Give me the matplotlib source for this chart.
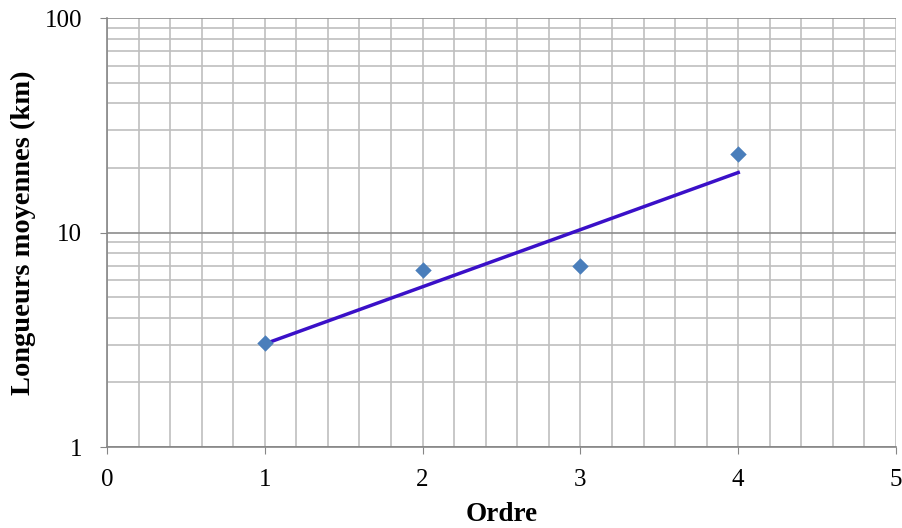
import numpy as np
import matplotlib
matplotlib.use("Agg")
import matplotlib.pyplot as plt
from matplotlib.ticker import MultipleLocator, LogLocator, NullFormatter, FixedLocator

plt.rcParams['font.family'] = ['Liberation Serif', 'DejaVu Serif']

# Data
ordre = [1, 2, 3, 4]
longueurs = [3.05, 6.7, 7.0, 23.2]

# Exponential trend line (fit on log values)
coef = np.polyfit(ordre, np.log10(longueurs), 1)
x_fit = np.array([ordre[0], ordre[-1]])
y_fit = 10 ** np.polyval(coef, x_fit)

fig = plt.figure(figsize=(9.03, 5.28), dpi=100)
ax = fig.add_axes([0.1185, 0.1534, 0.8738, 0.8125])

ax.set_yscale('log')
ax.set_xlim(0, 5)
ax.set_ylim(1, 100)

ax.xaxis.set_major_locator(MultipleLocator(1))
ax.xaxis.set_minor_locator(MultipleLocator(0.2))
ax.yaxis.set_major_locator(FixedLocator([1, 10, 100]))
ax.yaxis.set_minor_locator(LogLocator(base=10, subs=np.arange(2, 10)))
ax.yaxis.set_minor_formatter(NullFormatter())
ax.set_yticklabels(['1', '10', '100'])

ax.grid(True, which='both', color='#BFBFBF', linewidth=1.2)
ax.grid(True, which='major', axis='y', color='#8C8C8C', linewidth=1.2)
ax.set_axisbelow(True)

for side in ['top', 'right']:
    ax.spines[side].set_visible(False)
for side in ['left', 'bottom']:
    ax.spines[side].set_color('#868686')
    ax.spines[side].set_linewidth(1.2)

ax.tick_params(which='major', length=5, color='#868686', labelsize=18)
ax.tick_params(axis='x', pad=11)
ax.tick_params(axis='y', pad=13)
ax.tick_params(which='minor', length=0)

ax.plot(x_fit, y_fit, color='#3A10C8', linewidth=2.5, zorder=3)
ax.scatter(ordre, longueurs, marker='D', s=70, color='#4A7EBB', zorder=4, linewidths=0)

ax.set_xlabel('Ordre', fontsize=19.5, fontweight='bold', labelpad=8)
ax.set_ylabel('Longueurs moyennes (km)', fontsize=20.5, fontweight='bold', labelpad=6)

fig.savefig('out.png', dpi=100)
